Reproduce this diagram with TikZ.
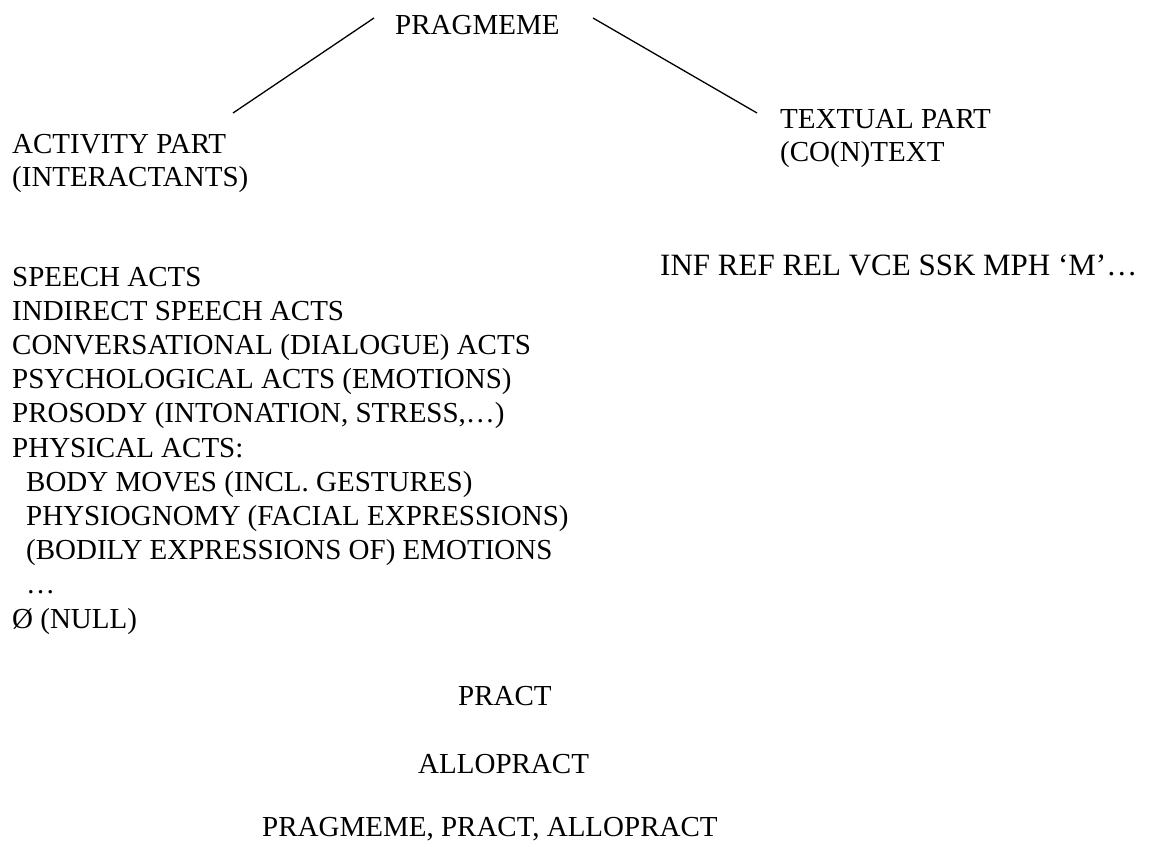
\documentclass[tikz,border=0pt]{standalone}
\usepackage{fontspec}
\setmainfont{Liberation Serif}
\begin{document}
\begin{tikzpicture}[x=1pt,y=-1pt,
  lbl/.style={inner sep=0pt,anchor=base west,font=\fontsize{29}{34}\selectfont},
  branch/.style={line width=1.3pt}]
\useasboundingbox[fill=white] (0,0) rectangle (1161,846);

% top of the tree
\node[lbl] (prag) at (395,34) {PRAGMEME};
\node[lbl] (act1) at (12,153) {ACTIVITY PART};
\node[lbl] (act2) at (12,186) {(INTERACTANTS)};
\node[lbl] (txt1) at (780,128) {TEXTUAL PART};
\node[lbl] (txt2) at (780,161) {(CO(N)TEXT};

% branch lines
\coordinate (la) at (374,18);
\coordinate (lb) at (233,113);
\coordinate (ra) at (593,18);
\coordinate (rb) at (757,113);
\draw[branch] (la) -- (lb);
\draw[branch] (ra) -- (rb);

% textual part contents
\node[lbl,font=\fontsize{31}{36}\selectfont] (ctx) at (660,275) {INF REF REL VCE SSK MPH ‘M’…};

% activity part contents
\def\pitch{34.2}
\node[lbl] (s1)  at (12,286)          {SPEECH ACTS};
\node[lbl] (s2)  at (12,286+\pitch)   {INDIRECT SPEECH ACTS};
\node[lbl] (s3)  at (12,286+2*\pitch) {CONVERSATIONAL (DIALOGUE) ACTS};
\node[lbl] (s4)  at (12,286+3*\pitch) {PSYCHOLOGICAL ACTS (EMOTIONS)};
\node[lbl] (s5)  at (12,286+4*\pitch) {PROSODY (INTONATION, STRESS,…)};
\node[lbl] (s6)  at (12,286+5*\pitch) {PHYSICAL ACTS:};
\node[lbl] (s7)  at (26,286+6*\pitch) {BODY MOVES (INCL. GESTURES)};
\node[lbl] (s8)  at (26,286+7*\pitch) {PHYSIOGNOMY (FACIAL EXPRESSIONS)};
\node[lbl] (s9)  at (26,286+8*\pitch) {(BODILY EXPRESSIONS OF) EMOTIONS};
\node[lbl] (s10) at (26,286+9*\pitch) {…};
\node[lbl] (s11) at (12,286+10*\pitch) {Ø (NULL)};

% lower levels
\node[lbl] (pract) at (458,705) {PRACT};
\node[lbl] (allo)  at (418,773) {ALLOPRACT};
\node[lbl] (all)   at (262,836) {PRAGMEME, PRACT, ALLOPRACT};
\end{tikzpicture}
\end{document}
